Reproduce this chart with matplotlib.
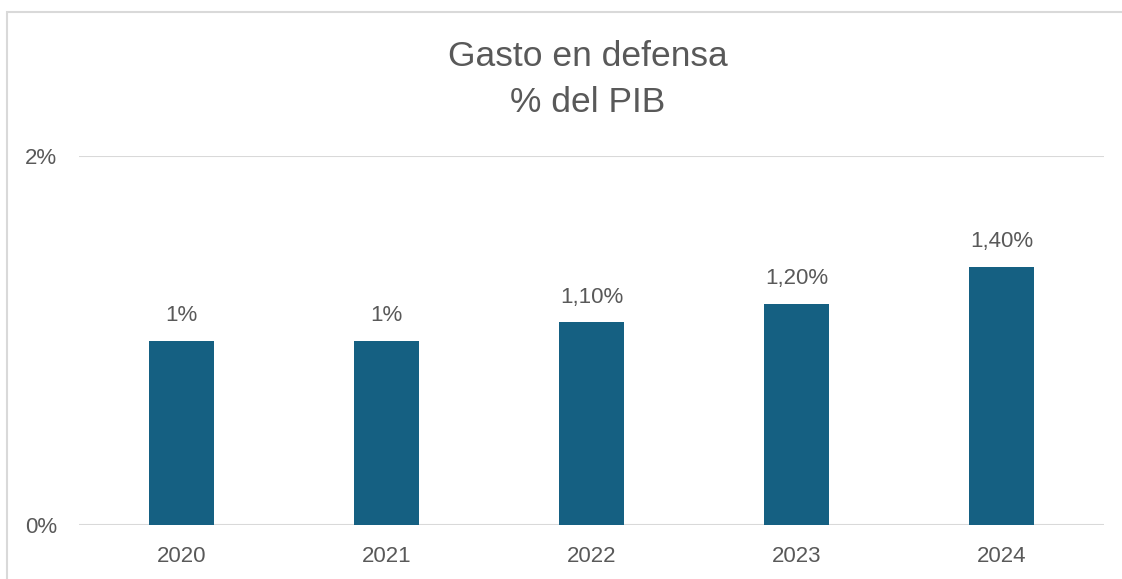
import matplotlib
matplotlib.use('agg')
import matplotlib.pyplot as plt
from matplotlib.patches import Rectangle

years = ['2020', '2021', '2022', '2023', '2024']
gasto = [0.010, 0.010, 0.011, 0.012, 0.014]
etiquetas = ['1%', '1%', '1,10%', '1,20%', '1,40%']
ytick_vals = [0.0, 0.02]
ytick_labels = ['0%', '2%']

plt.rcParams['font.family'] = ['Liberation Sans', 'DejaVu Sans']
gris = '#595959'

fig = plt.figure(figsize=(11.22, 5.79), dpi=100)
ax = fig.add_axes([79 / 1122, 1 - 525 / 579, (1104 - 79) / 1122, (525 - 156) / 579])

x = range(len(years))
bars = ax.bar(x, gasto, width=0.317, color='#156082', zorder=3)
for b, lab in zip(bars, etiquetas):
    ax.annotate(lab, (b.get_x() + b.get_width() / 2, b.get_height()),
                xytext=(0, 18), textcoords='offset points', ha='center', va='center',
                fontsize=16, color=gris)

ax.set_xlim(-0.5, len(years) - 0.5)
ax.set_ylim(0, 0.02)
ax.set_xticks(list(x))
ax.set_xticklabels(years, fontsize=16, color=gris)
ax.set_yticks(ytick_vals)
ax.set_yticklabels(ytick_labels, fontsize=16, color=gris)
ax.tick_params(axis='both', length=0)
ax.tick_params(axis='x', pad=15)
ax.tick_params(axis='y', pad=16)
ax.grid(axis='y', color='#D9D9D9', linewidth=1.5, zorder=0)
for s in ax.spines.values():
    s.set_visible(False)

fig.text(0.524, 1 - 57 / 579, 'Gasto en defensa', ha='center', va='center', fontsize=25.5, color=gris)
fig.text(0.524, 1 - 102 / 579, '% del PIB', ha='center', va='center', fontsize=25.5, color=gris)

fig.patches.append(Rectangle((6.5 / 1122, -0.05), 1.2, 1 - 12 / 579 + 0.05, transform=fig.transFigure,
                             fill=False, edgecolor='#D9D9D9', linewidth=1.5))

fig.savefig('out.png', dpi=100)
